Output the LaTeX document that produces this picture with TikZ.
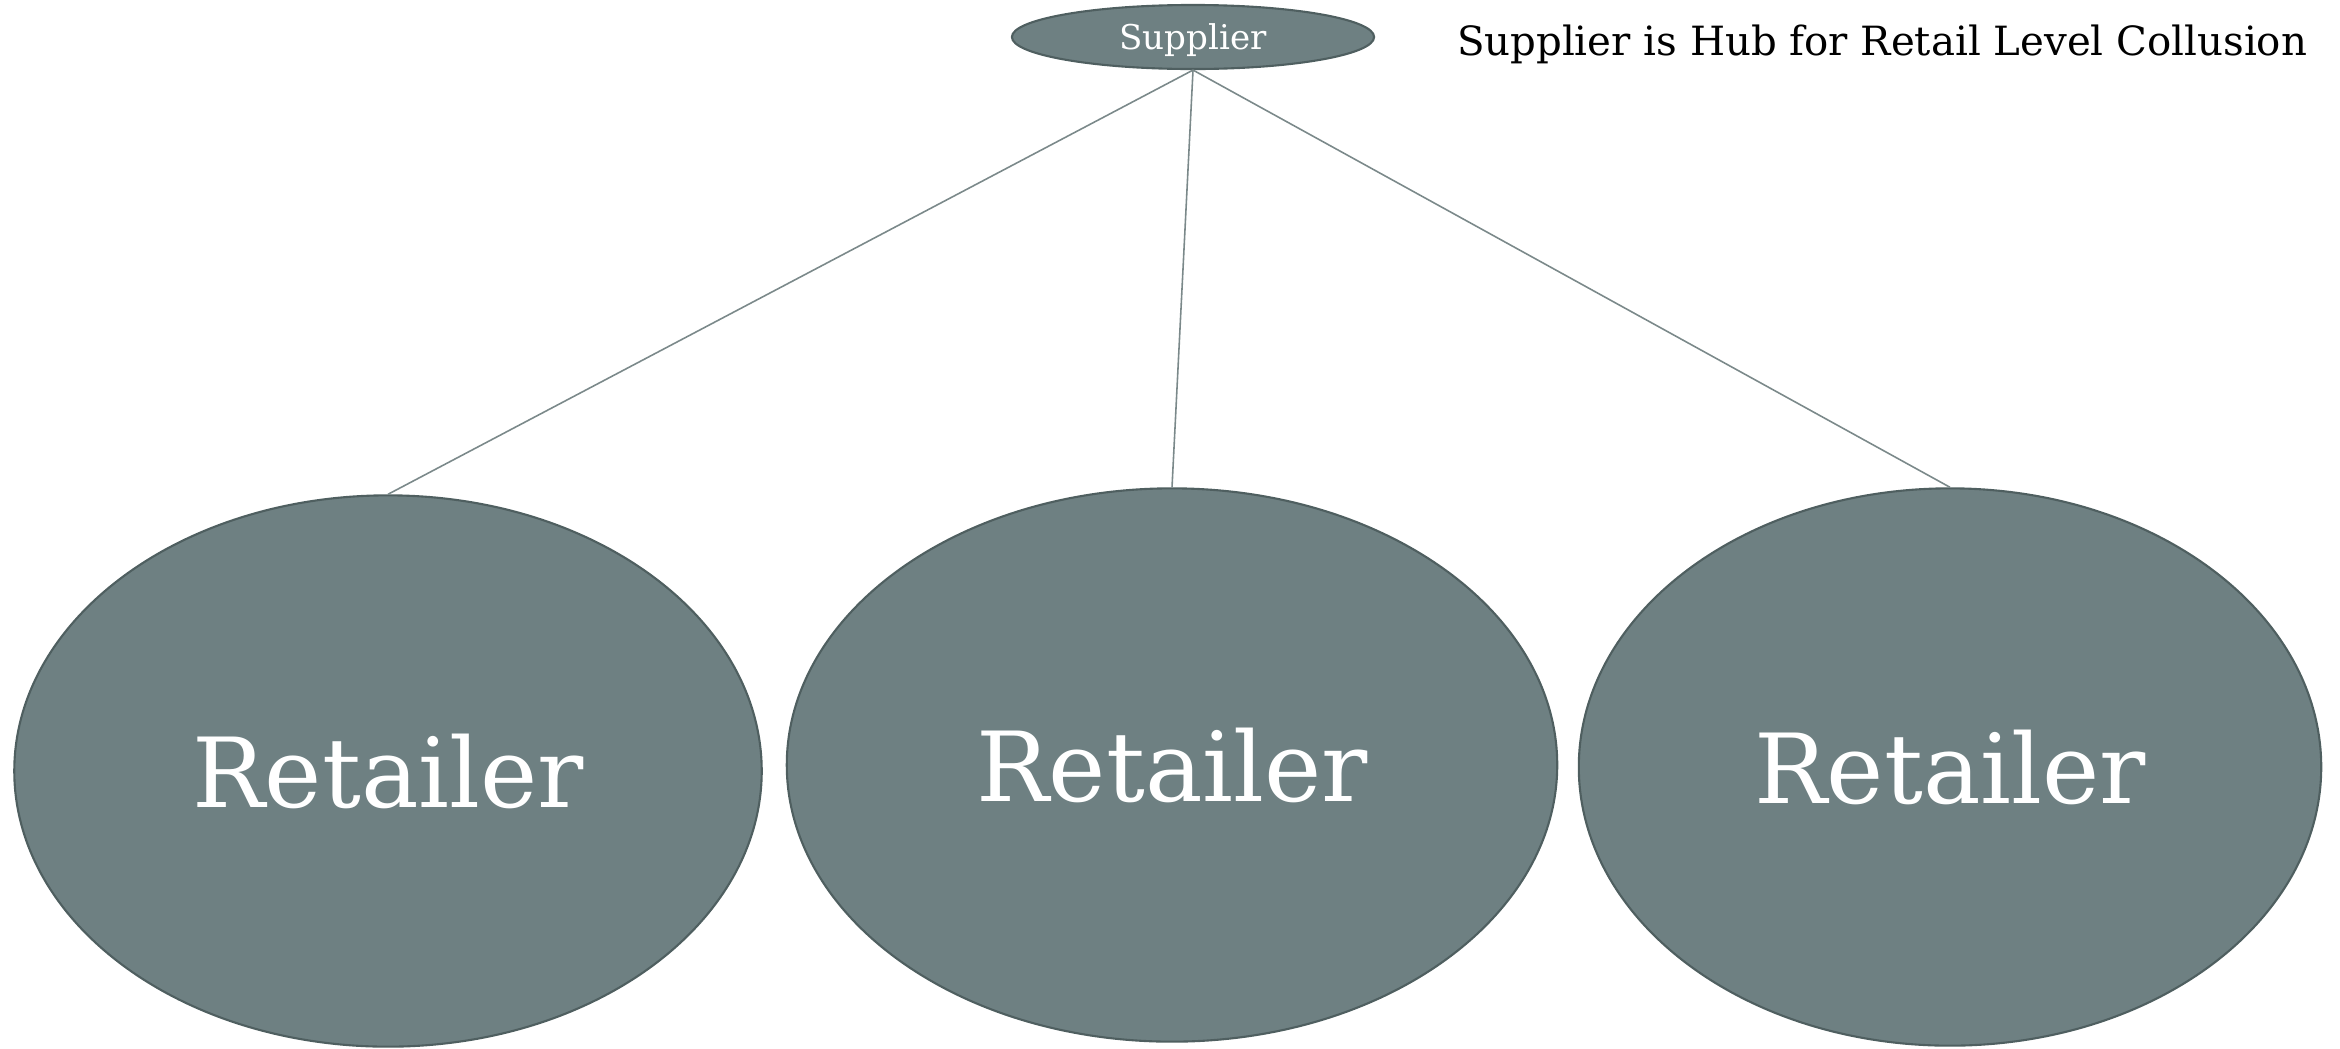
\documentclass[tikz,border=0pt]{standalone}
\usepackage{fontspec}
\setmainfont{DejaVu Serif}
\usepackage{tikz}
\usetikzlibrary{shapes.geometric}
\usepackage{xcolor}
\definecolor{HubFill}{HTML}{6E8082}
\definecolor{HubEdge}{HTML}{4F5F60}
\definecolor{LinkGray}{HTML}{7B898A}

\begin{document}
\begin{tikzpicture}[x=0.01cm, y=-0.01cm,
        hub/.style={ellipse, draw=HubEdge, line width=0.6pt, fill=HubFill, text=white, inner sep=0pt},
        link/.style={LinkGray, line width=0.45pt}]
                \useasboundingbox (0,0) rectangle (2340,1048);

                \node[hub, minimum width=3.62cm, minimum height=0.64cm, font=\fontsize{9.7}{11}\selectfont, text depth=0pt] (supplier) at (1193, 37) {Supplier};
                \node[font=\fontsize{11.45}{13}\selectfont, anchor=base] (title) at (1882, 55) {Supplier is Hub for Retail Level Collusion};

                \node[hub, minimum width=7.47cm, minimum height=5.51cm, font=\fontsize{27.5}{30}\selectfont, text depth=0pt] (left) at (388, 771) {Retailer};
                \node[hub, minimum width=7.70cm, minimum height=5.53cm, font=\fontsize{27.5}{30}\selectfont, text depth=0pt] (middle) at (1172, 765) {Retailer};
                \node[hub, minimum width=7.42cm, minimum height=5.57cm, font=\fontsize{27.5}{30}\selectfont, text depth=0pt] (right) at (1950, 767) {Retailer};

                % Supplier to each retailer
                \draw[link] (supplier.south) -- (left.north);
                \draw[link] (supplier.south) -- (middle.north);
                \draw[link] (supplier.south) -- (right.north);
            \end{tikzpicture}
\end{document}
